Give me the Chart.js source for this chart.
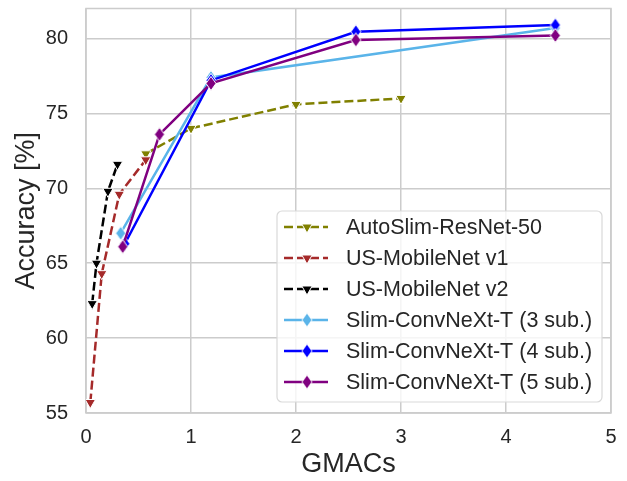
<!DOCTYPE html>
<html>
<head>
<meta charset="utf-8">
<script src="https://cdn.jsdelivr.net/npm/chart.js@4"></script>
<style>
  html, body { margin: 0; padding: 0; background: #fff; }
  #wrap { width: 627px; height: 481px; }
</style>
</head>
<body>
<div id="wrap"><canvas id="canvas" width="627" height="481"></canvas></div>
<script>
// Werte (GMACs / Accuracy)
const autoslimX = [0.57, 1.0, 2.0, 3.0];
const autoslimY = [72.3, 74.0, 75.6, 76.0];
const usV1X = [0.041, 0.15, 0.317, 0.569];
const usV1Y = [55.7, 64.3, 69.6, 71.9];
const usV2X = [0.059, 0.1, 0.209, 0.3];
const usV2Y = [62.3, 65.0, 69.8, 71.6];
const slim3X = [0.33, 1.19, 4.47];
const slim3Y = [67.0, 77.4, 80.7];
const slim4X = [0.37, 1.19, 2.57, 4.47];
const slim4Y = [66.3, 77.2, 80.45, 80.9];
const slim5X = [0.35, 0.70, 1.19, 2.57, 4.47];
const slim5Y = [66.1, 73.6, 77.0, 79.9, 80.2];

const seriesNames = ['AutoSlim-ResNet-50', 'US-MobileNet v1', 'US-MobileNet v2',
  'Slim-ConvNeXt-T (3 sub.)', 'Slim-ConvNeXt-T (4 sub.)', 'Slim-ConvNeXt-T (5 sub.)'];
const seriesColors = ['#808000', '#a52a2a', '#000000', '#5ab4e9', '#0000ff', '#800080'];

const xTicks = [0, 1, 2, 3, 4, 5];
const yTicks = [55, 60, 65, 70, 75, 80];

const FONT = "'Liberation Sans', Arial, sans-serif";
const TEXT = '#262626';
const GRID = '#cccccc';

// schmale Raute als Marker (wie matplotlib 'd')
function makeDiamond(color) {
  const c = document.createElement('canvas');
  c.width = 14; c.height = 17;
  const g = c.getContext('2d');
  g.beginPath();
  g.moveTo(7, 1.5); g.lineTo(12, 8.5); g.lineTo(7, 15.5); g.lineTo(2, 8.5);
  g.closePath();
  g.fillStyle = color; g.fill();
  g.strokeStyle = '#fff'; g.lineWidth = 1; g.stroke();
  return c;
}

const pts = (xs, ys) => xs.map((x, i) => ({ x: x, y: ys[i] }));

// spätere Serien liegen oben (wie matplotlib)
function triSet(i, xs, ys) {
  return {
    label: seriesNames[i], data: pts(xs, ys), order: 5 - i,
    borderColor: seriesColors[i], backgroundColor: seriesColors[i],
    borderWidth: 2.5, borderDash: [9, 4],
    pointStyle: 'triangle', pointRotation: 180, pointRadius: 6,
    pointBorderColor: '#fff', pointBorderWidth: 1,
    tension: 0
  };
}
function diaSet(i, xs, ys) {
  return {
    label: seriesNames[i], data: pts(xs, ys), order: 5 - i,
    borderColor: seriesColors[i], backgroundColor: seriesColors[i],
    borderWidth: 2.5,
    pointStyle: makeDiamond(seriesColors[i]), pointRadius: 6,
    tension: 0
  };
}

const datasets = [
  triSet(0, autoslimX, autoslimY),
  triSet(1, usV1X, usV1Y),
  triSet(2, usV2X, usV2Y),
  diaSet(3, slim3X, slim3Y),
  diaSet(4, slim4X, slim4Y),
  diaSet(5, slim5X, slim5Y)
];

// Rahmen um die Plotfläche
const framePlugin = {
  id: 'frame',
  beforeDatasetsDraw(chart) {
    const a = chart.chartArea, ctx = chart.ctx;
    ctx.save();
    ctx.strokeStyle = GRID; ctx.lineWidth = 1.5;
    ctx.strokeRect(a.left, a.top, a.right - a.left, a.bottom - a.top);
    ctx.restore();
  }
};

// Legende unten rechts innerhalb der Achsen
const legendPlugin = {
  id: 'boxLegend',
  afterDraw(chart) {
    const a = chart.chartArea, ctx = chart.ctx;
    const bx = a.right - 334, by = a.bottom - 202, bw = 325, bh = 191;
    ctx.save();
    ctx.beginPath();
    ctx.roundRect(bx, by, bw, bh, 5);
    ctx.fillStyle = 'rgba(255,255,255,0.8)'; ctx.fill();
    ctx.strokeStyle = '#d9d9d9'; ctx.lineWidth = 1.2; ctx.stroke();
    ctx.font = '21.5px ' + FONT;
    ctx.textBaseline = 'middle';
    datasets.forEach((ds, i) => {
      const y = by + 16 + i * 31;
      const x0 = bx + 7, x1 = bx + 51, xm = bx + 30;
      ctx.strokeStyle = seriesColors[i]; ctx.lineWidth = 2.5;
      ctx.setLineDash(i < 3 ? [9, 4] : []);
      ctx.beginPath(); ctx.moveTo(x0, y); ctx.lineTo(x1, y); ctx.stroke();
      ctx.setLineDash([]);
      if (i < 3) {
        const r = 6;
        ctx.beginPath();
        ctx.moveTo(xm, y + r);
        ctx.lineTo(xm - r * 0.866, y - r * 0.5);
        ctx.lineTo(xm + r * 0.866, y - r * 0.5);
        ctx.closePath();
        ctx.fillStyle = seriesColors[i]; ctx.fill();
        ctx.strokeStyle = '#fff'; ctx.lineWidth = 1; ctx.stroke();
      } else {
        ctx.drawImage(ds.pointStyle, xm - 7, y - 8.5);
      }
      ctx.fillStyle = TEXT;
      ctx.fillText(ds.label, bx + 69, y + 1);
    });
    ctx.restore();
  }
};

const chart = new Chart(document.querySelector('#canvas'), {
  type: 'line',
  data: { datasets: datasets },
  plugins: [framePlugin, legendPlugin],
  options: {
    responsive: false,
    animation: false,
    events: [],
    layout: { padding: { left: 0, top: 7, right: 16, bottom: 0 } },
    plugins: { legend: { display: false }, tooltip: { enabled: false } },
    scales: {
      x: {
        type: 'linear', min: 0, max: 5,
        afterFit: s => { s.height = 68; s.paddingLeft = 0; s.paddingRight = 0; },
        afterBuildTicks: s => { s.ticks = xTicks.map(v => ({ value: v })); },
        grid: { color: GRID, lineWidth: 1.5, drawTicks: false },
        border: { display: false },
        ticks: { color: TEXT, font: { family: FONT, size: 20 }, padding: 12 },
        title: { display: true, text: 'GMACs', color: TEXT, font: { family: FONT, size: 27 }, padding: { top: 0, bottom: 0 } }
      },
      y: {
        type: 'linear', min: 55, max: 82,
        afterFit: s => { s.width = 86; s.paddingTop = 0; s.paddingBottom = 0; },
        afterBuildTicks: s => { s.ticks = yTicks.map(v => ({ value: v })); },
        grid: { color: GRID, lineWidth: 1.5, drawTicks: false },
        border: { display: false },
        ticks: { color: TEXT, font: { family: FONT, size: 20 }, padding: 18 },
        title: { display: true, text: 'Accuracy [%]', color: TEXT, font: { family: FONT, size: 27 }, padding: { top: 10, bottom: 0 } }
      }
    }
  }
});
</script>
</body>
</html>
